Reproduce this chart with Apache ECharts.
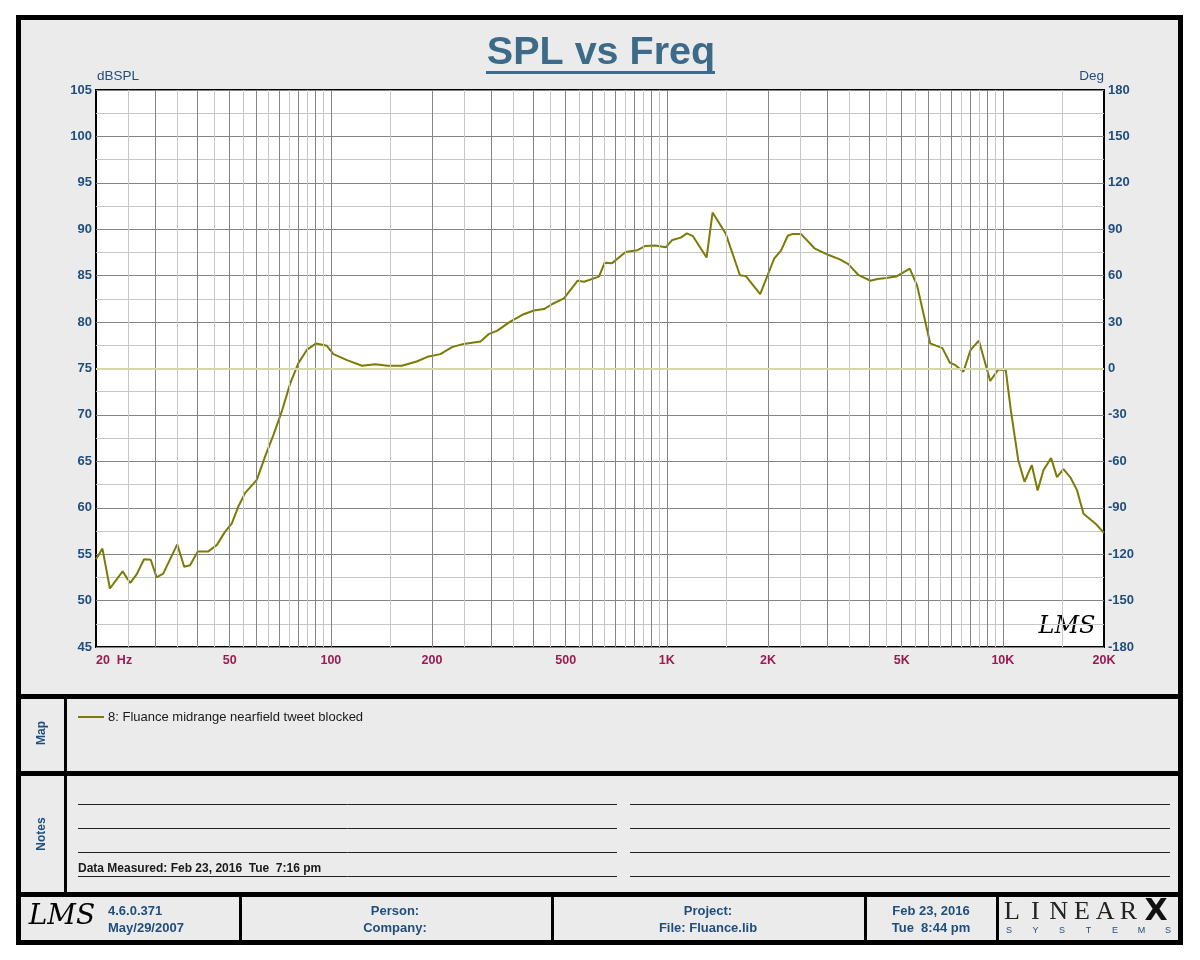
<!DOCTYPE html>
<html>
<head>
<meta charset="utf-8">
<title>SPL vs Freq</title>
<script src="https://cdn.jsdelivr.net/npm/echarts@6.0.0/dist/echarts.min.js"></script>
<style>
  html, body { margin: 0; padding: 0; background: #fff; }
  #chart { width: 1200px; height: 960px; }
</style>
</head>
<body>
<div id="chart"></div>
<script>
// measured curve
const freqs = [
  20, 20.9, 22.0, 24.0, 25.3, 26.4, 27.8, 29.1, 30.3, 31.7,
  34.9, 36.6, 38.1, 40.2, 43.2, 45.8, 48.4, 50.7, 53.0, 55.6,
  60.2, 63.7, 67.4, 71.4, 75.7, 80.0, 84.8, 90.4, 97.3, 101.8,
  111.7, 123.8, 135.6, 147.6, 162.6, 180, 195.5, 211.8, 229.4, 248.5,
  279, 294.6, 312, 342, 375, 402, 431, 456, 494, 542,
  567, 628, 653, 687, 754, 818, 863, 925, 992, 1038,
  1100, 1147, 1196, 1313, 1368, 1496, 1650, 1718, 1896, 2087,
  2186, 2290, 2370, 2506, 2750, 3018, 3272, 3468, 3722, 4038,
  4232, 4492, 4814, 5284, 5560, 6078, 6610, 6948, 7194, 7628,
  8018, 8486, 9172, 9698, 10200, 10564, 11110, 11598, 12192, 12690,
  13208, 13920, 14492, 15148, 15900, 16620, 17380, 18920, 20000
];
const spl = [
  54.45, 55.6, 51.3, 53.15, 51.9, 52.8, 54.45, 54.4, 52.5, 52.9,
  56.05, 53.65, 53.8, 55.3, 55.3, 56.0, 57.4, 58.3, 60.1, 61.6,
  63.0, 65.5, 67.8, 70.35, 73.4, 75.55, 77.0, 77.7, 77.45, 76.55,
  75.9, 75.3, 75.45, 75.3, 75.3, 75.75, 76.3, 76.55, 77.3, 77.65,
  77.9, 78.7, 79.05, 80.05, 80.85, 81.25, 81.4, 81.95, 82.55, 84.45,
  84.35, 84.9, 86.4, 86.35, 87.55, 87.75, 88.2, 88.25, 88.05, 88.85,
  89.1, 89.55, 89.25, 86.95, 91.8, 89.55, 85.05, 84.95, 83.0, 86.85,
  87.7, 89.3, 89.5, 89.5, 87.95, 87.25, 86.75, 86.25, 85.05, 84.45,
  84.65, 84.75, 84.9, 85.75, 83.9, 77.7, 77.2, 75.65, 75.4, 74.65,
  77.0, 78.0, 73.65, 74.9, 74.85, 70.5, 65.15, 62.8, 64.6, 61.85,
  64.05, 65.35, 63.3, 64.15, 63.25, 61.9, 59.35, 58.25, 57.3
];

const xTickValues = [20, 50, 100, 200, 500, 1000, 2000, 5000, 10000, 20000];
const xTickLabels = ['20  Hz', '50', '100', '200', '500', '1K', '2K', '5K', '10K', '20K'];
const decades = [10, 100, 1000, 10000];
const majorMult = [2, 3, 4, 5, 6, 7, 8, 9, 10];
const minorMult = [1.5, 2.5, 3.5, 4.5, 5.5, 6.5, 7.5, 8.5, 9.5];

const splMin = 45, splMax = 105, splStep = 5;
const degMin = -180, degMax = 180, degStep = 30;
const zeroDegLevel = 75;

const seriesName = '8: Fluance midrange nearfield tweet blocked';
const footerVersion = ['4.6.0.371', 'May/29/2007'];
const footerPerson = ['Person:', 'Company:'];
const footerProject = ['Project:', 'File: Fluance.lib'];
const footerDate = ['Feb 23, 2016', 'Tue  8:44 pm'];
const measuredText = 'Data Measured: Feb 23, 2016  Tue  7:16 pm';

const FONT = 'Liberation Sans, Arial, sans-serif';
const BLUE = '#1f4e7d';
const CRIMSON = '#9c1a50';
const OLIVE = '#7b7b05';
const DARK_GRID = '#858585';
const LIGHT_GRID = '#c6c6c6';

const inRange = f => f > 20.001 && f < 19999;
const majorFreqs = [];
const minorFreqs = [];
decades.forEach(d => {
  majorMult.forEach(m => { if (inRange(d * m)) majorFreqs.push(d * m); });
  minorMult.forEach(m => { if (inRange(d * m)) minorFreqs.push(d * m); });
});

const labelFor = {};
xTickValues.forEach((v, i) => { labelFor[v] = xTickLabels[i]; });

// frame / decoration
const graphic = [];
const box = (x, y, w, h, fill) => graphic.push({ type: 'rect', silent: true, shape: { x, y, width: w, height: h }, style: { fill } });
const txt = (x, y, text, opt) => graphic.push({
  type: 'text', silent: true, x, y, rotation: opt.rotation || 0,
  style: Object.assign({ text, fill: BLUE, fontFamily: FONT, fontSize: 13, fontWeight: 'bold', align: 'left', verticalAlign: 'middle' }, opt.style || {})
});

// white margin outside the frame
box(0, 0, 1200, 15, '#fff');
box(0, 945, 1200, 15, '#fff');
box(0, 0, 16, 960, '#fff');
box(1183, 0, 17, 960, '#fff');
// black frame and separators
box(16, 15, 1167, 5, '#000');
box(16, 940, 1167, 5, '#000');
box(16, 15, 5, 930, '#000');
box(1178, 15, 5, 930, '#000');
box(16, 694, 1167, 5, '#000');
box(16, 771, 1167, 5, '#000');
box(16, 892, 1167, 5, '#000');
box(64, 694, 3, 200, '#000');
[239, 551, 864, 996].forEach(x => box(x, 892, 3, 50, '#000'));

// title + underline
box(486, 71, 229, 3, '#3d6a88');
txt(601, 53, 'SPL vs Freq', { style: { fill: '#3d6a88', fontSize: 39.5, align: 'center' } });

// side labels
txt(42, 733, 'Map', { rotation: Math.PI / 2, style: { fontSize: 12, align: 'center' } });
txt(42, 834, 'Notes', { rotation: Math.PI / 2, style: { fontSize: 12, align: 'center' } });

// map legend
graphic.push({ type: 'line', silent: true, shape: { x1: 78, y1: 717, x2: 104, y2: 717 }, style: { stroke: OLIVE, lineWidth: 2 } });
txt(108, 717, seriesName, { style: { fill: '#1a1a1a', fontWeight: 'normal', fontSize: 13 } });

// notes lines
[804.5, 828.5, 852.5, 876.5].forEach(y => {
  graphic.push({ type: 'line', silent: true, shape: { x1: 78, y1: y, x2: 617, y2: y }, style: { stroke: '#222', lineWidth: 1 } });
  graphic.push({ type: 'line', silent: true, shape: { x1: 630, y1: y, x2: 1170, y2: y }, style: { stroke: '#222', lineWidth: 1 } });
});
txt(78, 869, measuredText, { style: { fill: '#1a1a1a', fontSize: 12, verticalAlign: 'middle' } });

// footer
txt(62, 917, 'LMS', { style: { fill: '#000', fontFamily: 'DejaVu Serif', fontStyle: 'italic', fontWeight: 'normal', fontSize: 28, align: 'center' } });
txt(108, 911, footerVersion[0], {});
txt(108, 928, footerVersion[1], {});
txt(395, 911, footerPerson[0], { style: { align: 'center' } });
txt(395, 928, footerPerson[1], { style: { align: 'center' } });
txt(708, 911, footerProject[0], { style: { align: 'center' } });
txt(708, 928, footerProject[1], { style: { align: 'center' } });
txt(931, 911, footerDate[0], { style: { align: 'center' } });
txt(931, 928, footerDate[1], { style: { align: 'center' } });
'LINEAR'.split('').forEach((c, i) => {
  txt(1012 + i * 23.3, 912, c, { style: { fill: '#222', fontFamily: 'Liberation Serif, serif', fontWeight: 'normal', fontSize: 26, align: 'center' } });
});
txt(1156, 912, 'X', { style: { fill: '#111', fontFamily: 'DejaVu Sans, sans-serif', fontWeight: 'bold', fontSize: 30, align: 'center' } });
'SYSTEMS'.split('').forEach((c, i) => {
  txt(1009 + i * 26.5, 931, c, { style: { fill: '#2a4f7a', fontWeight: 'normal', fontSize: 9, align: 'center' } });
});

// signature in plot corner
txt(1067, 627, 'LMS', { style: { fill: '#000', fontFamily: 'DejaVu Serif', fontStyle: 'italic', fontWeight: 'normal', fontSize: 24, align: 'center' } });

const chart = echarts.init(document.getElementById('chart'));
chart.setOption({
  animation: false,
  backgroundColor: '#ebebeb',
  grid: {
    left: 96, right: 96, top: 90, bottom: 313,
    show: true, backgroundColor: '#fff', borderColor: '#000', borderWidth: 2,
    outerBoundsMode: 'none'
  },
  xAxis: {
    type: 'log', logBase: 10, min: 20, max: 20000,
    axisLine: { show: false },
    axisTick: { show: false },
    splitLine: { show: false },
    axisLabel: {
      customValues: xTickValues,
      formatter: v => labelFor[Math.round(v)] || '',
      color: CRIMSON, fontFamily: FONT, fontSize: 12.5, fontWeight: 'bold', margin: 7,
      alignMinLabel: 'left'
    }
  },
  yAxis: [
    {
      type: 'value', min: splMin, max: splMax, interval: splStep,
      name: 'dBSPL', nameLocation: 'end', nameGap: 3,
      nameTextStyle: { color: BLUE, fontFamily: FONT, fontSize: 13.5, align: 'left', padding: [0, 0, 0, 1] },
      axisLine: { show: false }, axisTick: { show: false },
      axisLabel: { color: BLUE, fontFamily: FONT, fontSize: 13, fontWeight: 'bold', margin: 4 },
      splitLine: { lineStyle: { color: DARK_GRID, width: 1 } },
      minorTick: { show: false, splitNumber: 2 },
      minorSplitLine: { show: true, lineStyle: { color: LIGHT_GRID, width: 1 } }
    },
    {
      type: 'value', min: degMin, max: degMax, interval: degStep, position: 'right',
      name: 'Deg', nameLocation: 'end', nameGap: 3,
      nameTextStyle: { color: BLUE, fontFamily: FONT, fontSize: 13.5, align: 'right' },
      axisLine: { show: false }, axisTick: { show: false },
      axisLabel: { color: BLUE, fontFamily: FONT, fontSize: 13, fontWeight: 'bold', margin: 4 },
      splitLine: { show: false }
    }
  ],
  series: [
    {
      name: 'minor grid', type: 'line', data: [], silent: true, z: 1,
      markLine: {
        silent: true, symbol: 'none', label: { show: false }, animation: false,
        lineStyle: { color: LIGHT_GRID, width: 1, type: 'solid' },
        data: minorFreqs.map(f => ({ xAxis: f }))
      }
    },
    {
      name: 'major grid', type: 'line', data: [], silent: true, z: 1,
      markLine: {
        silent: true, symbol: 'none', label: { show: false }, animation: false,
        lineStyle: { color: DARK_GRID, width: 1, type: 'solid' },
        data: majorFreqs.map(f => ({ xAxis: f }))
      }
    },
    {
      name: 'zero deg', type: 'line', data: [], silent: true, z: 2,
      markLine: {
        silent: true, symbol: 'none', label: { show: false }, animation: false,
        lineStyle: { color: '#d6d6ac', width: 2, type: 'solid' },
        data: [{ yAxis: zeroDegLevel }]
      }
    },
    {
      name: seriesName, type: 'line', z: 3,
      data: freqs.map((f, i) => [f, spl[i]]),
      symbol: 'none', smooth: false,
      lineStyle: { color: OLIVE, width: 2 }
    }
  ],
  graphic: graphic
});
</script>
</body>
</html>
